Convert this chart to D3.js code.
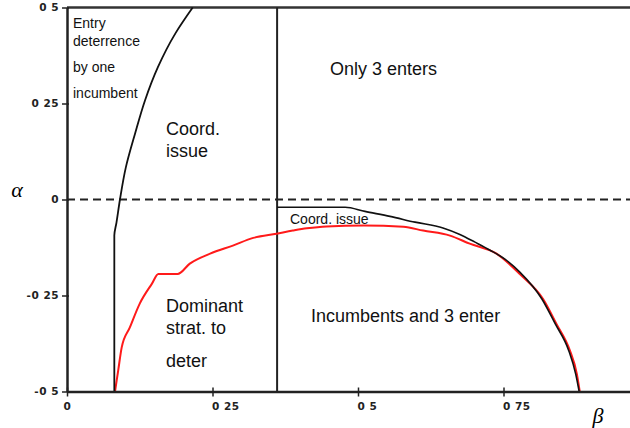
<!DOCTYPE html>
<html>
<head>
<meta charset="utf-8">
<script src="https://cdn.jsdelivr.net/npm/d3@7"></script>
<style>
  body { margin: 0; background: #fff; }
  svg { display: block; }
  .lbl { font-family: "Liberation Sans", Arial, sans-serif; fill: #111; }
  .tk text { font-family: "DejaVu Sans", sans-serif; font-weight: bold; font-size: 10.5px; fill: #222; letter-spacing: 0.5px; }
</style>
</head>
<body>
<svg id="graph"></svg>
<script>
// tick values and their labels as printed (decimal points lost in the original)
var xTicks = [0, 0.25, 0.5, 0.75];
var xTickLabels = ["0", "0 25", "0 5", "0 75"];
var yTicks = [-0.5, -0.25, 0, 0.25, 0.5];
var yTickLabels = ["-0 5", "-0 25", "0", "0 25", "0 5"];

// boundary: entry deterrence by one incumbent (beta, alpha)
var deterBeta  = [0.0813, 0.0813, 0.085, 0.091, 0.101, 0.117, 0.134, 0.156, 0.186, 0.216];
var deterAlpha = [-0.5, -0.094, -0.06, 0, 0.083, 0.172, 0.258, 0.344, 0.432, 0.5];

// red boundary: dominant strategy to deter
var redBeta  = [0.0825, 0.088, 0.094, 0.108, 0.125, 0.146, 0.157, 0.190, 0.211, 0.246, 0.285, 0.320, 0.360,
                0.388, 0.412, 0.446, 0.510, 0.578, 0.612, 0.658, 0.692, 0.738, 0.778, 0.818, 0.841, 0.864, 0.876, 0.881];
var redAlpha = [-0.5, -0.445, -0.385, -0.333, -0.271, -0.219, -0.194, -0.194, -0.167, -0.141, -0.120, -0.100, -0.089,
                -0.081, -0.075, -0.070, -0.068, -0.071, -0.081, -0.094, -0.115, -0.141, -0.194, -0.259, -0.324, -0.393, -0.454, -0.5];

// black boundary under the dashed line: coordination issue
var coordBeta  = [0.361, 0.478, 0.512, 0.555, 0.598, 0.646, 0.675, 0.701, 0.727, 0.753, 0.778,
                  0.816, 0.839, 0.862, 0.874, 0.880];
var coordAlpha = [-0.020, -0.020, -0.031, -0.044, -0.059, -0.074, -0.091, -0.111, -0.132, -0.156, -0.189,
                  -0.259, -0.324, -0.393, -0.454, -0.5];

// vertical boundary: only 3 enters
var splitBeta = 0.361;

var w = 630, h = 428;

var svg = d3.select("#graph")
    .attr("width", w)
    .attr("height", h);

var x = d3.scaleLinear()
    .domain([0, 0.75])
    .range([67, 503.5]);
var betaMax = x.invert(w);
x.domain([0, betaMax]).range([67, w]);

var y = d3.scaleLinear()
    .domain([-0.5, 0.5])
    .range([391.5, 7.5]);

function pairs(a, b){
    return a.map(function(v, i){ return [v, b[i]]; });
}

function makeLine(curve){
    return d3.line()
        .x(function(d){ return x(d[0]); })
        .y(function(d){ return y(d[1]); })
        .curve(curve);
}

// dashed alpha = 0 line
svg.append("line")
    .attr("x1", x(0)).attr("x2", x(betaMax))
    .attr("y1", y(0)).attr("y2", y(0))
    .attr("stroke", "#222")
    .attr("stroke-width", 2)
    .attr("stroke-dasharray", "8,5");

// top frame line
svg.append("line")
    .attr("x1", x(0)).attr("x2", x(betaMax))
    .attr("y1", y(0.5)).attr("y2", y(0.5))
    .attr("stroke", "#333")
    .attr("stroke-width", 2.5);

// vertical split line
svg.append("line")
    .attr("x1", x(splitBeta)).attr("x2", x(splitBeta))
    .attr("y1", y(0.5)).attr("y2", y(-0.5))
    .attr("stroke", "#222")
    .attr("stroke-width", 2);

// curves
svg.append("path")
    .attr("d", makeLine(d3.curveMonotoneX)(pairs(redBeta, redAlpha)))
    .attr("fill", "none")
    .attr("stroke", "#ff1a1a")
    .attr("stroke-width", 2);

svg.append("path")
    .attr("d", makeLine(d3.curveMonotoneX)(pairs(coordBeta, coordAlpha)))
    .attr("fill", "none")
    .attr("stroke", "#111")
    .attr("stroke-width", 1.6);

svg.append("path")
    .attr("d", makeLine(d3.curveMonotoneY)(pairs(deterBeta, deterAlpha)))
    .attr("fill", "none")
    .attr("stroke", "#111")
    .attr("stroke-width", 1.8);

// axes
var axisX = d3.axisBottom(x)
    .tickValues(xTicks)
    .tickFormat(function(d, i){ return xTickLabels[i]; })
    .tickSizeInner(5)
    .tickSizeOuter(0)
    .tickPadding(6);

var gx = svg.append("g")
    .attr("class", "tk")
    .attr("transform", "translate(0," + y(-0.5) + ")")
    .call(axisX);
gx.select(".domain").attr("stroke", "#222").attr("stroke-width", 2.5);
gx.selectAll(".tick line").attr("y1", -4).attr("stroke", "#222").attr("stroke-width", 1.5);
gx.selectAll(".tick text").attr("text-anchor", function(d){ return d === 0 ? "middle" : "start"; })
    .attr("dx", function(d){ return d === 0 ? 0 : -1; });

var axisY = d3.axisLeft(y)
    .tickValues(yTicks)
    .tickFormat(function(d, i){ return yTickLabels[i]; })
    .tickSizeInner(4)
    .tickSizeOuter(0)
    .tickPadding(4);

var gy = svg.append("g")
    .attr("class", "tk")
    .attr("transform", "translate(" + x(0) + ",0)")
    .call(axisY);
gy.select(".domain").attr("stroke", "#222").attr("stroke-width", 2.5);
gy.selectAll(".tick line").attr("x2", -5).attr("x1", 2).attr("stroke", "#222").attr("stroke-width", 1.5);

// axis names
svg.append("text")
    .attr("x", 17).attr("y", 197)
    .attr("text-anchor", "middle")
    .attr("font-family", "'Liberation Serif', 'DejaVu Serif', serif")
    .attr("font-style", "italic")
    .attr("font-size", 22)
    .text("α");

svg.append("text")
    .attr("x", 598).attr("y", 423)
    .attr("text-anchor", "middle")
    .attr("font-family", "'Liberation Serif', 'DejaVu Serif', serif")
    .attr("font-style", "italic")
    .attr("font-size", 22)
    .text("β");

// region labels
var regionText = [
    {t: "Entry", x: 73, y: 28, s: 14},
    {t: "deterrence", x: 73, y: 46, s: 14},
    {t: "by one", x: 73, y: 72, s: 14},
    {t: "incumbent", x: 73, y: 98, s: 14},
    {t: "Only 3 enters", x: 330, y: 75, s: 18},
    {t: "Coord.", x: 166, y: 135, s: 18},
    {t: "issue", x: 166, y: 157, s: 18},
    {t: "Coord. issue", x: 290, y: 224, s: 14},
    {t: "Dominant", x: 166, y: 312, s: 18},
    {t: "strat. to", x: 166, y: 334, s: 18},
    {t: "deter", x: 166, y: 367, s: 18},
    {t: "Incumbents and 3 enter", x: 311, y: 322, s: 18}
];

svg.selectAll("text.lbl")
    .data(regionText)
    .enter()
    .append("text")
    .attr("class", "lbl")
    .attr("x", function(d){ return d.x; })
    .attr("y", function(d){ return d.y; })
    .attr("font-size", function(d){ return d.s; })
    .text(function(d){ return d.t; });
</script>
</body>
</html>
